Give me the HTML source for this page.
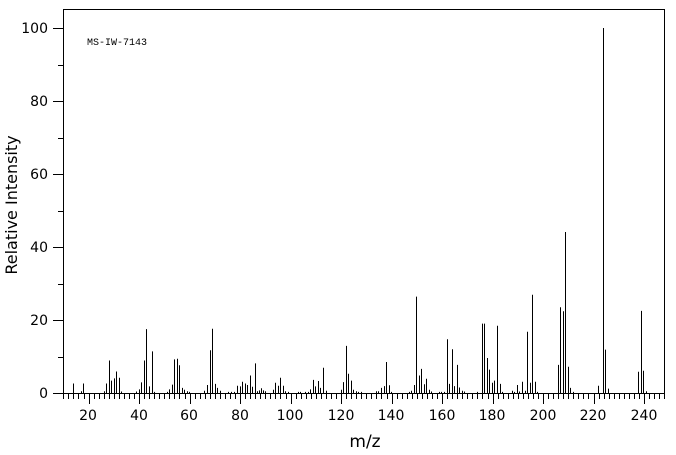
<!DOCTYPE html>
<html><head><meta charset="utf-8"><style>
html,body{margin:0;padding:0;background:#fff;}
svg{display:block;font-family:"DejaVu Sans","Liberation Sans",sans-serif;}
</style></head><body>
<svg id="s" width="676" height="455" viewBox="0 0 676 455" xmlns="http://www.w3.org/2000/svg">
<rect x="63.5" y="9.5" width="601" height="384" fill="none" stroke="#000" stroke-width="1"/>
<text x="87" y="45" font-family="Liberation Mono, monospace" font-size="10">MS-IW-7143</text>
<g font-size="14" text-anchor="end">
<text x="48" y="398">0</text><text x="48" y="325">20</text><text x="48" y="252">40</text>
<text x="48" y="179">60</text><text x="48" y="106">80</text><text x="48" y="33">100</text>
</g>
<g font-size="14" text-anchor="middle">
<text x="88" y="420">20</text><text x="139" y="420">40</text><text x="189" y="420">60</text>
<text x="240" y="420">80</text><text x="290" y="420">100</text><text x="341" y="420">120</text>
<text x="391" y="420">140</text><text x="442" y="420">160</text><text x="492" y="420">180</text>
<text x="543" y="420">200</text><text x="593" y="420">220</text><text x="644" y="420">240</text>
</g>
<text x="365" y="447" font-size="17" text-anchor="middle">m/z</text>
<text transform="translate(17,205) rotate(-90)" font-size="16" text-anchor="middle">Relative Intensity</text>
<g id="g" stroke="#000" stroke-width="1"></g>
</svg>
<script>
var g=document.getElementById('g'),d='';
function L(x1,y1,x2,y2){d+='<line x1="'+x1+'" y1="'+y1+'" x2="'+x2+'" y2="'+y2+'"/>';}
for(var m=10;m<=250;m+=2){var x=Math.round(63.3+(m-10)*2.525)+0.5;if(x>665)break;L(x,393,x,(m%20==0)?404:399);}
for(var v=0;v<=100;v+=10){var y=Math.round(393-v*3.65)+0.5;L(v%20==0?53:58,y,63,y);}
var z1=[[220,2.6],[244,.5],[250,2.6],[313,.5],[319,2.6],[328,8.9],[334,3.4],[343,4],[349,5.9],[358,4.2],[364,.4],[409,.4],[418,1],[424,2.9],[433,8.9],[439,17.5],[448,1.8],[457,11.4],[463,.3],[502,.3],[508,1],[517,2.3],[523,9.2],[532,9.4],[538,7.6],[547,1.4],[553,.9],[562,.5],[568,.3],[613,.6],[622,2.2],[631,11.7],[637,17.6],[646,2.5],[652,1.4],[661,.6],[685,.3],[694,.3],[703,.3],[712,2],[721,1.8],[727,3.1],[736,2.6],[742,2.2],[751,4.8],[757,1.7],[766,8.1],[772,.5],[778,.7],[784,1.3],[790,.7],[796,.5],[820,.9],[826,2.8],[835,2],[841,4.2],[850,2],[856,.5],[865,.3],[895,.3],[901,.3],[916,.3],[925,.3],[931,1],[940,3.6],[946,1.8],[955,3.3],[961,1.4],[970,6.9],[979,.6]];
var z2=[[16,.9],[22,3],[31,12.9],[37,5.3],[46,3.4],[52,.9],[61,.5],[67,.3],[76,.3],[121,.5],[127,.5],[136,1.4],[145,1.9],[151,8.5],[160,2.1],[166,.3],[220,.3],[226,.6],[235,2.2],[241,26.4],[250,4.8],[256,6.6],[265,2.4],[271,3.9],[280,.9],[286,.4],[310,.3],[316,.3],[325,.3],[334,14.7],[340,2.5],[349,12],[355,1.9],[364,7.7],[370,1.5],[379,.6],[385,.4],[424,.3],[439,19],[445,19],[454,9.6],[460,6.4],[469,2.8],[475,3.4],[484,18.4],[493,2.5],[499,.3],[529,.6],[535,.3],[544,2.2],[550,.4],[559,3.1],[568,.6],[574,16.8],[583,2.8],[589,26.9],[598,3.1],[604,.3],[667,7.7],[673,23.5],[682,22.4],[688,44.1],[697,7.2],[703,1.4],[712,.3],[787,2],[802,100],[808,11.9],[817,1.2],[907,5.8],[916,22.5],[922,6.1],[931,.5]];
function P(x,v){x=Math.round(x)+0.5;L(x,393,x,(393-v*3.65).toFixed(1));}
z1.forEach(function(p){P(p[0]/3,p[1]);});
z2.forEach(function(p){P(336+p[0]/3,p[1]);});
g.innerHTML=d;
</script>
</body></html>
